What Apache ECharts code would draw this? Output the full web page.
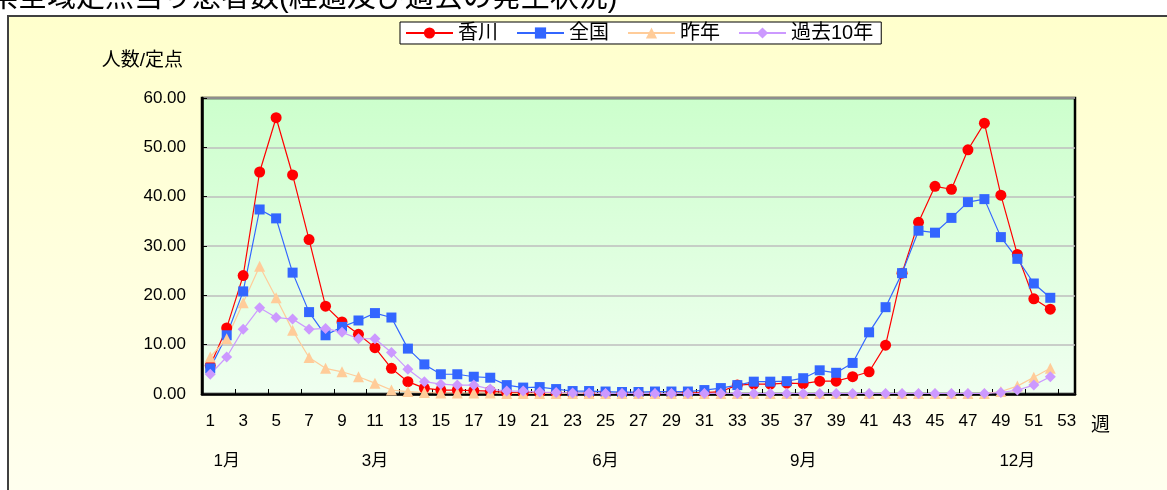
<!DOCTYPE html>
<html>
<head>
<meta charset="utf-8">
<script src="https://cdn.jsdelivr.net/npm/echarts@6/dist/echarts.min.js"></script>
<style>
  html, body { margin: 0; padding: 0; background: #fff; }
  #chart { width: 1167px; height: 490px; }
</style>
</head>
<body>
<div id="chart"></div>
<script>
const weeks = Array.from({ length: 53 }, (_, i) => String(i + 1));

const kagawa = [5.8, 13.4, 24.0, 45.0, 56.0, 44.4, 31.3, 17.8, 14.6, 12.1, 9.4, 5.2, 2.5, 1.2, 0.8, 0.8, 0.7, 0.6, 0.3, 0.2,
  0.2, 0.2, 0.1, 0.1, 0.1, 0.1, 0.1, 0.1, 0.1, 0.2, 0.3, 0.5, 1.8, 2.0, 2.0, 2.2, 2.1, 2.6, 2.6, 3.5,
  4.5, 9.9, 24.5, 34.8, 42.1, 41.5, 49.5, 54.9, 40.3, 28.3, 19.3, 17.2];

const national = [5.2, 11.9, 20.8, 37.4, 35.6, 24.6, 16.6, 11.9, 13.6, 14.9, 16.4, 15.5, 9.2, 6.0, 4.0, 4.0, 3.5, 3.3, 1.8, 1.3,
  1.4, 1.0, 0.6, 0.6, 0.5, 0.4, 0.4, 0.5, 0.5, 0.5, 0.8, 1.2, 1.8, 2.5, 2.5, 2.6, 3.2, 4.8, 4.3, 6.3,
  12.5, 17.6, 24.5, 33.1, 32.7, 35.7, 38.9, 39.5, 31.8, 27.4, 22.4, 19.5];

const lastYear = [7.5, 11.2, 18.5, 25.9, 19.5, 12.9, 7.4, 5.2, 4.5, 3.5, 2.2, 0.8, 0.5, 0.3, 0.2, 0.2, 0.2, 0.2, 0.1, 0.1,
  0.1, 0.1, 0.1, 0.1, 0.1, 0.1, 0.1, 0.1, 0.1, 0.1, 0.1, 0.1, 0.1, 0.1, 0.1, 0.1, 0.1, 0.1, 0.1, 0.1,
  0.1, 0.1, 0.1, 0.1, 0.1, 0.1, 0.1, 0.1, 0.5, 1.6, 3.4, 5.2];

const past10 = [4.0, 7.5, 13.1, 17.5, 15.5, 15.2, 13.1, 13.3, 12.5, 11.2, 11.2, 8.4, 5.0, 2.5, 2.0, 1.8, 1.8, 1.0, 0.6, 0.6,
  0.4, 0.3, 0.2, 0.2, 0.1, 0.1, 0.1, 0.1, 0.1, 0.1, 0.1, 0.1, 0.1, 0.1, 0.1, 0.1, 0.1, 0.1, 0.1, 0.1,
  0.1, 0.1, 0.1, 0.1, 0.1, 0.1, 0.1, 0.1, 0.3, 0.8, 1.8, 3.5];

// month captions under the week numbers
const monthWeeks = [2, 11, 25, 37, 50];
const monthNames = ['1月', '3月', '6月', '9月', '12月'];

const font = '"Liberation Sans", "Noto Sans CJK JP", sans-serif';

const chart = echarts.init(document.getElementById('chart'));

const makeSeries = (name, data, color, symbol, size) => ({
  name,
  type: 'line',
  data,
  symbol,
  symbolSize: size,
  showSymbol: true,
  showAllSymbol: true,
  color,
  lineStyle: { width: 1.2, color },
  itemStyle: { color },
  emphasis: { disabled: true }
});

const option = {
  animation: false,
  textStyle: { fontFamily: font },
  graphic: [
    {
      type: 'text',
      left: -69,
      top: -16,
      z: 0,
      style: {
        text: '香川県全域定点当り患者数(経過及び過去の発生状況)',
        font: '29px ' + font,
        fill: '#000'
      }
    },
    {
      type: 'rect',
      shape: { x: 8, y: 16, width: 1200, height: 520 },
      z: -10,
      style: {
        fill: new echarts.graphic.LinearGradient(0, 0, 0, 1, [
          { offset: 0, color: '#FFFFCC' },
          { offset: 1, color: '#FFFFF2' }
        ]),
        stroke: '#404040',
        lineWidth: 2
      }
    }
  ],
  legend: {
    left: 400,
    top: 22,
    itemWidth: 47,
    itemHeight: 14,
    itemGap: 18,
    padding: [1, 8, 1, 5],
    backgroundColor: '#fff',
    borderColor: '#000',
    borderWidth: 1,
    textStyle: { fontSize: 20, color: '#000', fontFamily: font },
    data: ['香川', '全国', '昨年', '過去10年']
  },
  grid: {
    left: 202,
    right: 92,
    top: 98,
    bottom: 96,
    show: true,
    borderColor: '#000',
    borderWidth: 2.5,
    backgroundColor: new echarts.graphic.LinearGradient(0, 0, 0, 1, [
      { offset: 0, color: '#CCFFCC' },
      { offset: 1, color: '#F0FFF0' }
    ])
  },
  xAxis: [
    {
      type: 'category',
      data: weeks,
      boundaryGap: true,
      axisLine: { show: true, lineStyle: { color: '#000', width: 2.5 } },
      axisTick: { show: true, inside: true, length: 5, lineStyle: { color: '#000' } },
      axisLabel: { interval: 1, margin: 19, fontSize: 17, color: '#000', fontFamily: font },
      name: '週',
      nameLocation: 'end',
      nameGap: 16,
      nameTextStyle: { fontSize: 19, color: '#000', verticalAlign: 'top', padding: [22, 0, 0, 0], fontFamily: font }
    },
    {
      type: 'category',
      data: weeks,
      position: 'bottom',
      offset: 40,
      boundaryGap: true,
      axisLine: { show: false },
      axisTick: { show: false },
      axisLabel: {
        interval: 0,
        margin: 19,
        fontSize: 17,
        color: '#000',
        fontFamily: font,
        formatter: (v) => {
          const k = monthWeeks.indexOf(Number(v));
          return k >= 0 ? monthNames[k] : '';
        }
      }
    }
  ],
  yAxis: {
    type: 'value',
    min: 0,
    max: 60,
    interval: 10,
    name: '人数/定点',
    nameLocation: 'end',
    nameGap: 28,
    nameTextStyle: { fontSize: 19, color: '#000', align: 'right', padding: [0, 19, 0, 0], fontFamily: font },
    axisLine: { show: true, lineStyle: { color: '#000', width: 2.5 } },
    axisTick: { show: true, inside: true, length: 5, lineStyle: { color: '#000' } },
    axisLabel: { margin: 16, fontSize: 17, color: '#000', fontFamily: font, formatter: (v) => v.toFixed(2) },
    splitLine: { show: true, lineStyle: { color: '#BEBEBE', width: 1.5 } }
  },
  series: [
    makeSeries('香川', kagawa, '#FF0000', 'circle', 11),
    makeSeries('全国', national, '#3366FF', 'rect', 10),
    makeSeries('昨年', lastYear, '#FFCC99', 'triangle', 11),
    makeSeries('過去10年', past10, '#CC99FF', 'diamond', 11)
  ]
};

chart.setOption(option);
</script>
</body>
</html>
